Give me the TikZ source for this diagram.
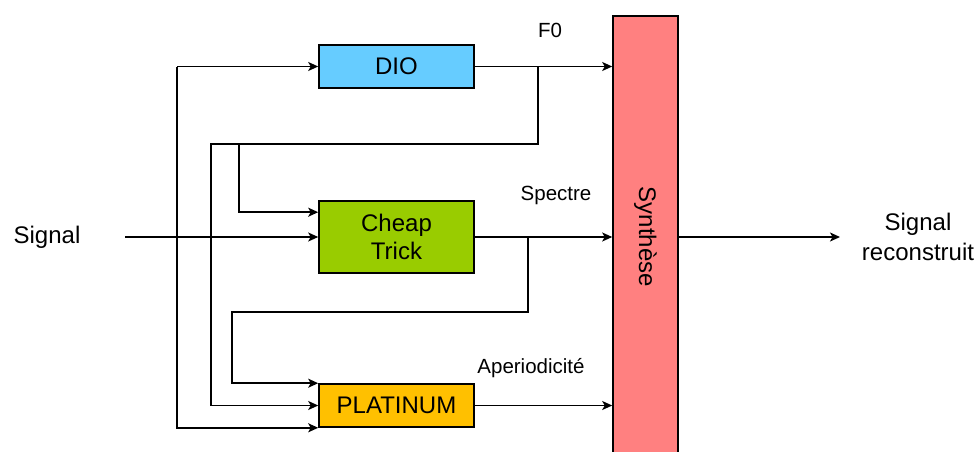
\documentclass[tikz,border=0pt]{standalone}
\usepackage{fontspec}
\setmainfont{Liberation Sans}
\usetikzlibrary{arrows.meta}
\definecolor{bleudio}{HTML}{66CCFF}
\definecolor{vertct}{HTML}{99CC00}
\definecolor{orplat}{HTML}{FFC000}
\definecolor{rosesyn}{HTML}{FF8080}
\begin{document}
\begin{tikzpicture}[x=1pt, y=-1pt, line width=1.5pt,
  bloc/.style={draw, line width=1.6pt, minimum width=155pt, inner sep=0pt,
    align=center, font=\fontsize{24}{28}\selectfont},
  etiq/.style={font=\fontsize{20.5}{24}\selectfont, inner sep=0pt},
  fl/.style={-{Stealth[length=10pt, width=9pt, inset=2.5pt]}}]
\useasboundingbox (0, 0) rectangle (979, 452);
% blocs
\node (dio) at (396.5, 66.5) [bloc, minimum height=43pt, fill=bleudio] {DIO};
\node (cheap) at (396.5, 237) [bloc, minimum height=72pt, fill=vertct] {Cheap\\Trick};
\node (plat) at (396.5, 405.5) [bloc, minimum height=43pt, fill=orplat] {PLATINUM};
\node (synth) at (645.5, 237) [bloc, minimum width=65pt, minimum height=442pt,
  fill=rosesyn] {};
\node at (synth.center) [rotate=-90, font=\fontsize{24}{28}\selectfont] {Synthèse};
% textes
\node (sig) at (47, 237) [font=\fontsize{24}{28}\selectfont] {Signal};
\node (sigrec) at (918, 237) [align=center, font=\fontsize{24}{30}\selectfont]
  {Signal\\reconstruit};
\node (f0) at (550, 30) [etiq] {F0};
\node (spec) at (556, 195) [etiq] {Spectre};
\node (aper) at (531, 368) [etiq] {Aperiodicité};
% points
\coordinate (sigdep) at (125, 237);
\coordinate (entree) at (177, 66.5);
\coordinate (f0tap) at (538, 66.5);
\coordinate (f0bus) at (211, 144);
\coordinate (f0br) at (239, 144);
\coordinate (sptap) at (528, 237);
\coordinate (spbus) at (232, 312);
\coordinate (fin) at (840, 237);
% liaisons
\draw [fl] (sigdep) to (cheap.west);
\draw [fl] (entree) to (dio.west);
\draw [fl] (entree) |- (plat.south west);
\draw [fl] (dio.east) to (synth.west |- dio.east);
\draw [fl] (cheap.east) to (synth.west |- cheap.east);
\draw [fl] (plat.east) to (synth.west |- plat.east);
\draw [fl] (f0tap) |- (f0bus) |- (plat.west);
\draw [fl] (f0br) |- ([yshift=-12pt]cheap.north west);
\draw [fl] (sptap) |- (spbus) |- (plat.north west);
\draw [fl] (synth.east |- cheap.east) to (fin);
\end{tikzpicture}
\end{document}
